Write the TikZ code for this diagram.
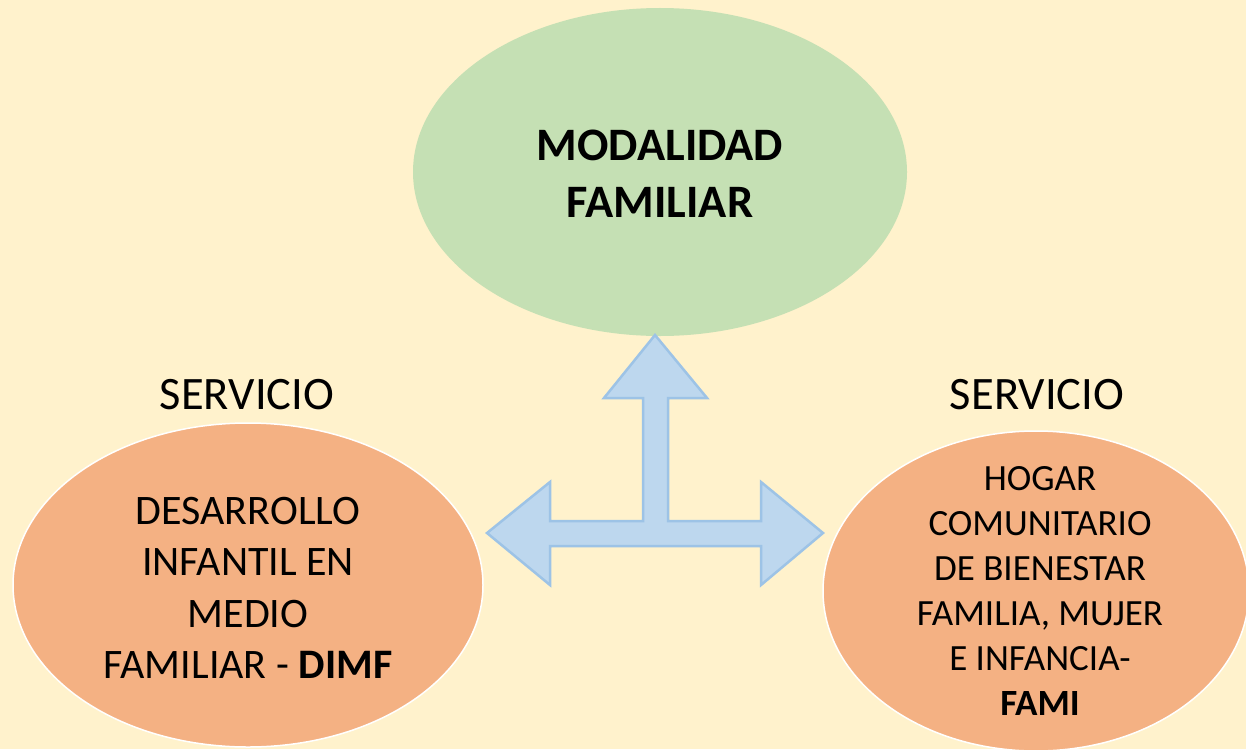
\documentclass[tikz,border=0pt]{standalone}
\usepackage{fontspec}
\setmainfont{Carlito}
\usetikzlibrary{positioning}

\definecolor{fondo}{HTML}{FFF2CC}
\definecolor{verde}{HTML}{C5E0B4}
\definecolor{naranja}{HTML}{F4B183}
\definecolor{azul}{HTML}{BDD7EE}
\definecolor{azulborde}{HTML}{9DC3E6}

\tikzset{
  oval/.style={fill=#1, draw=white, line width=1.5pt},
  titulo/.style={font=\fontsize{46.5}{57}\selectfont\bfseries, align=center},
  etiqueta/.style={font=\fontsize{46.5}{55}\selectfont},
  textoizq/.style={font=\fontsize{42}{51.5}\selectfont, align=center},
  textoder/.style={font=\fontsize{37}{45}\selectfont, align=center}
}

\begin{document}
\begin{tikzpicture}[x=1pt, y=-1pt]
\useasboundingbox (0,0) rectangle (1246,749);
\clip (0,0) rectangle (1246,749);
\fill[fondo] (0,0) rectangle (1246,749);

% ovalos
\draw[oval=verde, draw=none] (660,172) ellipse [x radius=247, y radius=164];
\draw[oval=naranja] (248,585) ellipse [x radius=235, y radius=162];
\draw[oval=naranja] (1036,591) ellipse [x radius=213, y radius=160];

% flecha de tres puntas
\draw[fill=azul, draw=azulborde, line width=2.5pt, line join=miter]
  (655,335) -- (707,398) -- (668,398) -- (668,521) -- (761,521) -- (761,482)
  -- (823,533) -- (761,585) -- (761,546) -- (550,546) -- (550,585)
  -- (487,533) -- (550,482) -- (550,521) -- (643,521) -- (643,398)
  -- (604,398) -- cycle;

% textos
\node[titulo] (modalidad) at (660,174) {MODALIDAD\\FAMILIAR};
\node[etiqueta] (servizq) at (247,395) {SERVICIO};
\node[etiqueta] (servder) at (1037,395) {SERVICIO};
\node[textoizq] (dimf) at (248,588)
  {DESARROLLO\\INFANTIL EN\\MEDIO\\FAMILIAR - \textbf{DIMF}};
\node[textoder] (fami) at (1040,591)
  {HOGAR\\COMUNITARIO\\DE BIENESTAR\\FAMILIA, MUJER\\E INFANCIA-\\\textbf{FAMI}};

\end{tikzpicture}
\end{document}
